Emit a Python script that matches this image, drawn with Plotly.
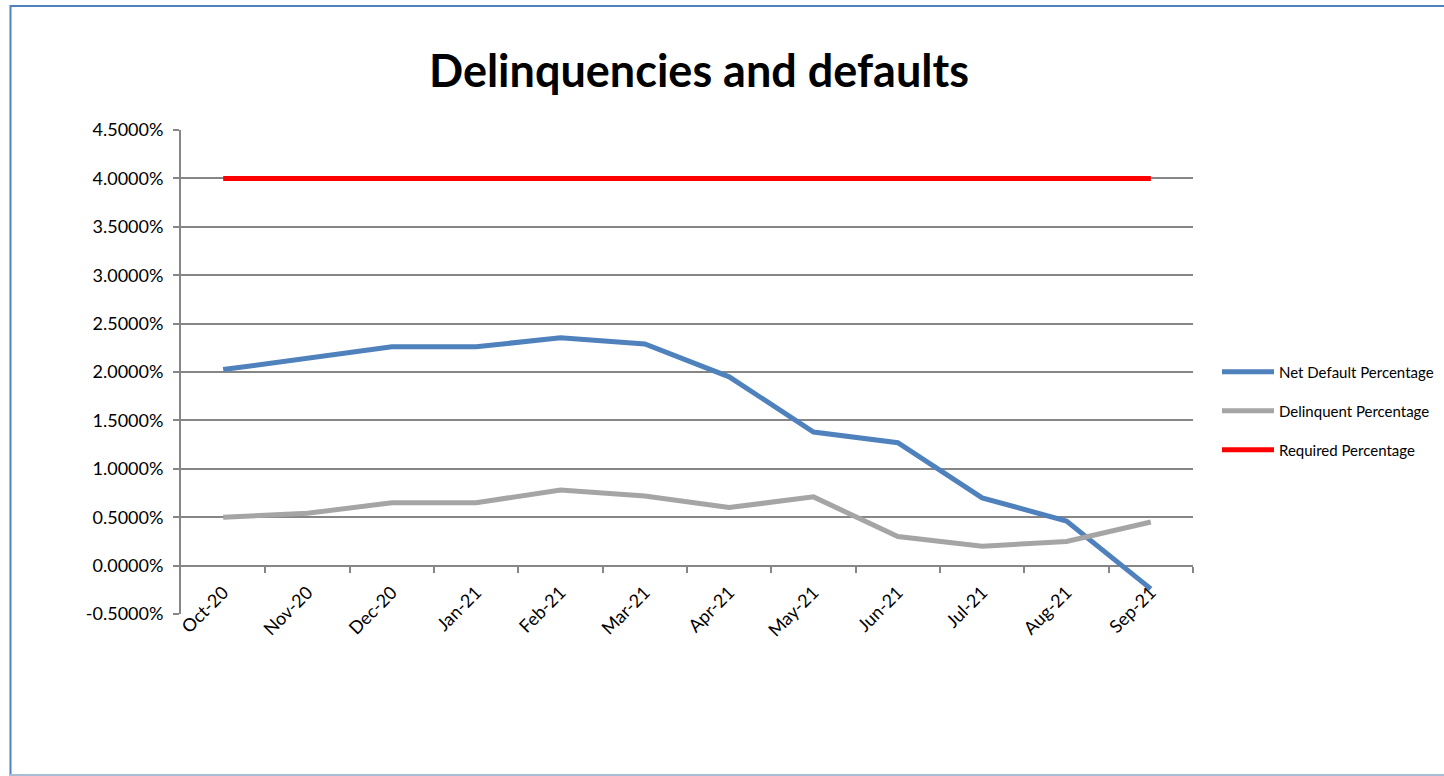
import plotly.graph_objects as go

months = ["Oct-20", "Nov-20", "Dec-20", "Jan-21", "Feb-21", "Mar-21",
          "Apr-21", "May-21", "Jun-21", "Jul-21", "Aug-21", "Sep-21"]
net_default = [2.025, 2.14, 2.26, 2.26, 2.355, 2.29, 1.95, 1.38, 1.27, 0.70, 0.46, -0.24]
delinquent = [0.50, 0.54, 0.65, 0.65, 0.78, 0.72, 0.60, 0.71, 0.30, 0.20, 0.25, 0.45]
required = [4.0] * 12
y_ticks = [-0.5, 0.0, 0.5, 1.0, 1.5, 2.0, 2.5, 3.0, 3.5, 4.0, 4.5]

W, H = 1444, 776
L, R, T, B = 181, 251, 130, 162
Y_MIN, Y_MAX = -0.5, 4.5

idx = list(range(len(months)))
FONT = "Lato"

fig = go.Figure()
series = [
    ("Net Default Percentage", net_default, "#4F81BD", "legend"),
    ("Delinquent Percentage", delinquent, "#A5A5A5", "legend2"),
    ("Required Percentage", required, "#FF0000", "legend3"),
]
for name, vals, color, leg in series:
    fig.add_trace(go.Scatter(
        x=idx, y=vals, name=name, mode="lines",
        line=dict(color=color, width=5),
        legend=leg,
    ))

pw = W - L - R
ph = H - T - B
def px_x(px):
    return (px - L) / pw
def px_y(py):
    return (H - B - py) / ph

zero_pos = (0 - Y_MIN) / (Y_MAX - Y_MIN)

leg_common = dict(font=dict(family=FONT, size=15, color="#000000"),
                  bgcolor="rgba(0,0,0,0)", xanchor="left", yanchor="middle",
                  itemwidth=52)

fig.update_layout(
    width=W, height=H,
    margin=dict(l=L, r=R, t=T, b=B, autoexpand=False),
    paper_bgcolor="white", plot_bgcolor="white",
    title=dict(text="<b>Delinquencies and defaults</b>", x=699 / W,
               xanchor="center", y=1 - 71 / H, yanchor="middle",
               font=dict(family=FONT, size=45, color="#000000")),
    xaxis=dict(range=[-0.5, len(months) - 0.5], showgrid=False, zeroline=False,
               showline=False, showticklabels=False, ticks=""),
    xaxis2=dict(range=[-0.5, len(months) - 0.5], overlaying="x", anchor="free",
                position=zero_pos, showgrid=False, zeroline=False, showline=False,
                tickmode="array", tickvals=idx, ticktext=months, tickangle=-45,
                ticks="", ticklabelstandoff=12,
                tickfont=dict(family=FONT, size=18, color="#000000")),
    xaxis3=dict(range=[-0.5, len(months) - 0.5], overlaying="x", anchor="free",
                position=zero_pos, showgrid=False, zeroline=False, showline=False,
                tickmode="array", tickvals=[i + 0.5 for i in idx], showticklabels=False,
                ticks="outside", ticklen=6, tickwidth=2, tickcolor="#868686"),
    yaxis=dict(range=[Y_MIN, Y_MAX], tickmode="array", tickvals=y_ticks,
               ticktext=[f"{v:.4f}%" for v in y_ticks],
               showgrid=True, gridcolor="#868686", gridwidth=2,
               zeroline=False, showline=True, linecolor="#868686", linewidth=2,
               ticks="outside", ticklen=6, tickwidth=2, tickcolor="#868686",
               ticklabelstandoff=6,
               tickfont=dict(family=FONT, size=18, color="#000000")),
    legend=dict(x=px_x(1217), y=px_y(372), **leg_common),
    legend2=dict(x=px_x(1217), y=px_y(411), **leg_common),
    legend3=dict(x=px_x(1217), y=px_y(450), **leg_common),
)

fig.add_trace(go.Scatter(x=[None], y=[None], xaxis="x2", showlegend=False, hoverinfo="skip"))
fig.add_trace(go.Scatter(x=[None], y=[None], xaxis="x3", showlegend=False, hoverinfo="skip"))

# chart frame (decoration)
fig.add_shape(type="line", xref="paper", yref="paper", x0=px_x(10), x1=px_x(1444), y0=px_y(6), y1=px_y(6),
              line=dict(color="#4F81BD", width=2))
fig.add_shape(type="line", xref="paper", yref="paper", x0=px_x(10.5), x1=px_x(10.5), y0=px_y(5), y1=px_y(776),
              line=dict(color="#4F81BD", width=2))
fig.add_shape(type="line", xref="paper", yref="paper", x0=px_x(10), x1=px_x(1444), y0=px_y(775), y1=px_y(775),
              line=dict(color="#A9BCD6", width=2))

fig.write_html("out.html", config={"displayModeBar": False},
               post_script="document.body.style.margin='0';document.body.style.overflow='hidden';")
